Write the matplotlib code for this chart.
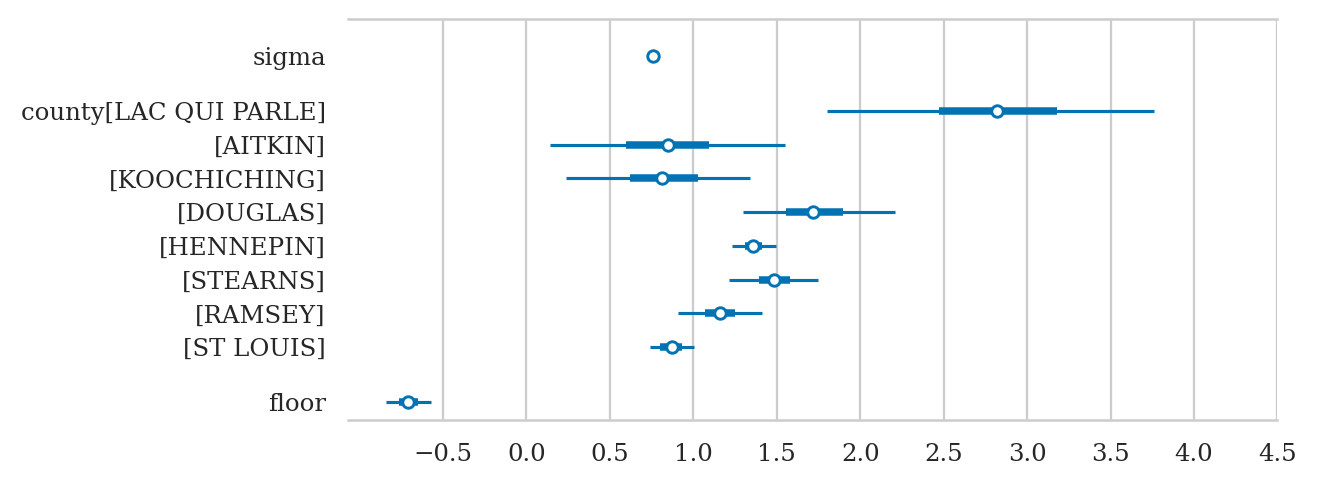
import numpy as np
import matplotlib
matplotlib.use("Agg")
import matplotlib.pyplot as plt

# forest plot values (hdi 94% outer, 50% inner, median)
labels = ["sigma", "county[LAC QUI PARLE]", "[AITKIN]", "[KOOCHICHING]", "[DOUGLAS]",
          "[HENNEPIN]", "[STEARNS]", "[RAMSEY]", "[ST LOUIS]", "floor"]
groups = [0, 1, 1, 1, 1, 1, 1, 1, 1, 2]
median = [0.760, 2.82, 0.847, 0.815, 1.72, 1.36, 1.484, 1.16, 0.871, -0.708]
hdi_lo = [0.745, 1.80, 0.14, 0.235, 1.30, 1.231, 1.215, 0.907, 0.741, -0.838]
hdi_hi = [0.775, 3.76, 1.55, 1.343, 2.21, 1.496, 1.75, 1.414, 1.007, -0.572]
iqr_lo = [0.755, 2.47, 0.60, 0.621, 1.555, 1.31, 1.394, 1.07, 0.80, -0.76]
iqr_hi = [0.765, 3.18, 1.095, 1.031, 1.90, 1.41, 1.58, 1.25, 0.93, -0.65]

blue = "#0173b2"
grid_c = "#cccccc"
plt.rcParams["font.family"] = ["DejaVu Serif"]

# y positions: rows 1 apart, extra gap between variable groups
group_gap = 0.63
ys = []
y = 0.0
for i in range(len(labels) - 1, -1, -1):
    if i < len(labels) - 1 and groups[i] != groups[i + 1]:
        y += group_gap
    ys.append(y)
    y += 1
ys = ys[::-1]

fig = plt.figure(figsize=(13.17 / 1.5, 4.86 / 1.5), dpi=150)
ax = fig.add_axes([0.264, 0.136, 0.706, 0.825])

for k in range(len(labels)):
    ax.plot([hdi_lo[k], hdi_hi[k]], [ys[k], ys[k]], color=blue, lw=1.5,
            solid_capstyle="butt", zorder=3)
    ax.plot([iqr_lo[k], iqr_hi[k]], [ys[k], ys[k]], color=blue, lw=3.6,
            solid_capstyle="butt", zorder=3)
    ax.plot(median[k], ys[k], "o", ms=5.5, mfc="white", mec=blue, mew=1.4, zorder=4)

ax.set_yticks(ys)
ax.set_yticklabels(labels, fontsize=11.7)
ax.set_xlim(-1.07, 4.5)
ax.set_ylim(-0.53, ys[0] + 1.1)
ax.set_xticks(np.arange(-0.5, 4.51, 0.5))
ax.set_xticklabels([f"{v:.1f}".replace("-", "\u2212") for v in np.arange(-0.5, 4.51, 0.5)],
                   fontsize=11.7)
ax.tick_params(axis="y", length=0, pad=10.5, colors="#262626")
ax.tick_params(axis="x", length=0, pad=11, colors="#262626")
ax.grid(axis="x", color=grid_c, lw=1.1)
ax.set_axisbelow(True)
for side in ["left", "right"]:
    ax.spines[side].set_visible(False)
for side in ["top", "bottom"]:
    ax.spines[side].set_color(grid_c)
    ax.spines[side].set_linewidth(1.2)

fig.savefig("out.png", dpi=150)
